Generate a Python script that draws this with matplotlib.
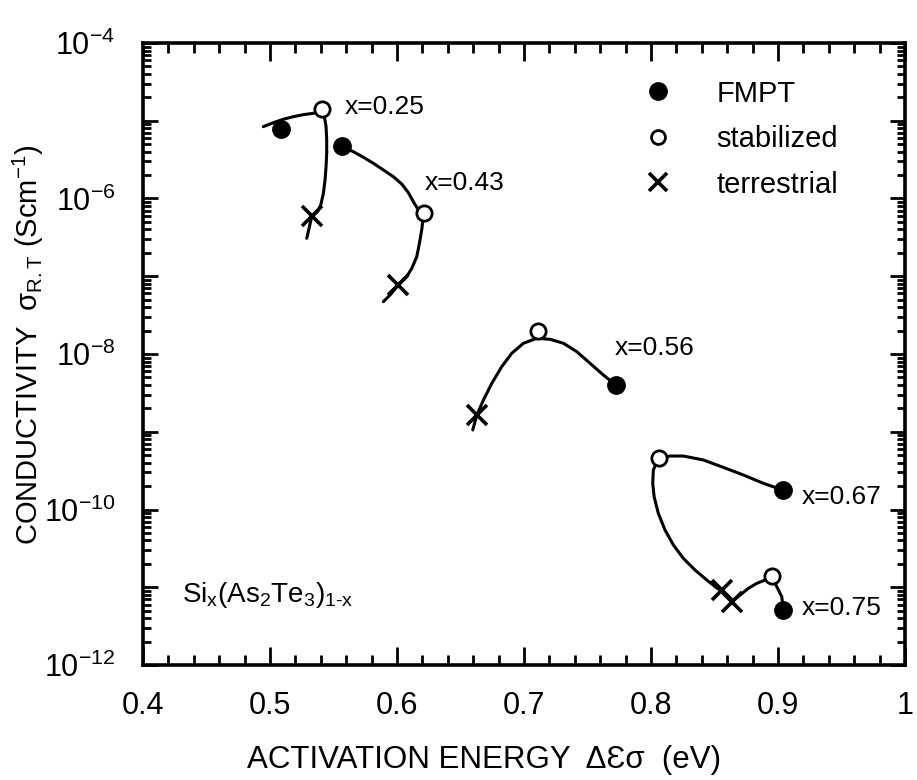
import numpy as np
import matplotlib
matplotlib.use('Agg')
import matplotlib.pyplot as plt
from matplotlib.ticker import MultipleLocator, LogLocator, FuncFormatter, NullFormatter
from matplotlib.lines import Line2D

plt.rcParams['font.family'] = ['Liberation Sans', 'DejaVu Sans']
plt.rcParams['mathtext.fontset'] = 'custom'
plt.rcParams['mathtext.rm'] = 'Liberation Sans'
plt.rcParams['mathtext.it'] = 'Liberation Sans:italic'
plt.rcParams['mathtext.bf'] = 'Liberation Sans:bold'
plt.rcParams['mathtext.default'] = 'regular'
plt.rcParams['axes.unicode_minus'] = False

# ---------------- data ----------------
compositions = ['x=0.25', 'x=0.43', 'x=0.56', 'x=0.67', 'x=0.75']

# FMPT (filled circles)
fmpt_E = [0.509, 0.557, 0.772, 0.904, 0.904]
fmpt_logS = [-5.11, -5.33, -8.40, -9.75, -11.29]
# stabilized (open circles)
stab_E = [0.541, 0.621, 0.711, 0.806, 0.895]
stab_logS = [-4.85, -6.19, -7.70, -9.34, -10.86]
# terrestrial (crosses)
terr_E = [0.533, 0.601, 0.663, 0.856, 0.864]
terr_logS = [-6.23, -7.11, -8.79, -11.04, -11.19]

# hand-drawn guide curves
curve_025_E = [0.4947, 0.5026, 0.5105, 0.5183, 0.5262, 0.5341, 0.5412, 0.5428, 0.5441,
               0.5446, 0.5446, 0.5441, 0.5433, 0.5420, 0.5399, 0.5373, 0.5328, 0.5310, 0.5289]
curve_025_logS = [-5.076, -5.025, -4.981, -4.948, -4.922, -4.904, -4.884, -4.948, -5.076,
                  -5.248, -5.419, -5.591, -5.762, -5.933, -6.084, -6.170, -6.234, -6.363, -6.512]
curve_043_E = [0.5565, 0.5656, 0.5735, 0.5813, 0.5892, 0.5971, 0.6037, 0.6089, 0.6128, 0.6160,
               0.6207, 0.6202, 0.6194, 0.6176, 0.6155, 0.6116, 0.6076, 0.6010, 0.5945, 0.5892]
curve_043_logS = [-5.334, -5.398, -5.470, -5.547, -5.633, -5.720, -5.814, -5.925, -6.041, -6.126,
                  -6.190, -6.298, -6.405, -6.576, -6.749, -6.898, -7.006, -7.113, -7.241, -7.327]
curve_056_E = [0.6596, 0.6628, 0.6680, 0.6746, 0.6824, 0.6903, 0.6995, 0.7100, 0.7205, 0.7310,
               0.7415, 0.7520, 0.7624, 0.7724]
curve_056_logS = [-8.977, -8.785, -8.592, -8.377, -8.163, -7.991, -7.862, -7.798, -7.811, -7.862,
                  -7.970, -8.120, -8.270, -8.399]
curve_067_E = [0.9037, 0.8884, 0.8727, 0.8569, 0.8412, 0.8254, 0.8150, 0.8057, 0.8018, 0.8013,
               0.8024, 0.8057, 0.8110, 0.8176, 0.8254, 0.8346, 0.8439, 0.8522, 0.8569, 0.8622]
curve_067_logS = [-9.749, -9.663, -9.556, -9.458, -9.363, -9.312, -9.312, -9.341, -9.492, -9.663,
                  -9.835, -10.049, -10.264, -10.457, -10.628, -10.778, -10.907, -11.014, -11.057, -11.143]
curve_075_E = [0.8635, 0.8701, 0.8766, 0.8832, 0.8884, 0.8950, 0.8990, 0.9029, 0.9042]
curve_075_logS = [-11.186, -11.100, -11.014, -10.950, -10.916, -10.864, -10.993, -11.121, -11.293]

label_E = [0.559, 0.622, 0.7717, 0.9189, 0.9189]
label_logS = [-4.82, -5.80, -7.92, -9.84, -11.27]

legend_labels = ['FMPT', 'stabilized', 'terrestrial']
y_tick_exps = [-12, -10, -8, -6, -4]
x_ticks = [0.4, 0.5, 0.6, 0.7, 0.8, 0.9, 1.0]
x_tick_labels = ['0.4', '0.5', '0.6', '0.7', '0.8', '0.9', '1']

# ---------------- figure ----------------
fig = plt.figure(figsize=(9.17, 7.8), dpi=100)
ax = fig.add_axes([0.156, 0.1474, 0.831, 0.7975])

lw = 2.2
curves = [(curve_025_E, curve_025_logS), (curve_043_E, curve_043_logS),
          (curve_056_E, curve_056_logS), (curve_067_E, curve_067_logS),
          (curve_075_E, curve_075_logS)]
for ce, cl in curves:
    ax.plot(ce, 10.0 ** np.array(cl), color='black', lw=lw, solid_capstyle='round',
            solid_joinstyle='round', zorder=2)

ax.plot(terr_E, 10.0 ** np.array(terr_logS), ls='none', marker='x', ms=15, mew=2.6,
        color='black', zorder=3)
ax.plot(stab_E, 10.0 ** np.array(stab_logS), ls='none', marker='o', ms=11, mew=2.0,
        mfc='white', mec='black', zorder=4)
ax.plot(fmpt_E, 10.0 ** np.array(fmpt_logS), ls='none', marker='o', ms=12.5,
        mfc='black', mec='black', zorder=4)

for lab, le, ll in zip(compositions, label_E, label_logS):
    ax.text(le, 10.0 ** ll, lab, fontsize=19, ha='left', va='center')

ax.text(0.051, 0.1125, r'Si$_x$(As$_2$Te$_3$)$_{1\text{-}x}$', transform=ax.transAxes,
        fontsize=20, ha='left', va='center')

ax.set_xlim(0.4, 1.0)
ax.set_yscale('log')
ax.set_ylim(1e-12, 1e-4)

ax.set_xticks(x_ticks)
ax.set_xticklabels(x_tick_labels)
ax.xaxis.set_minor_locator(MultipleLocator(0.02))

ax.yaxis.set_major_locator(LogLocator(base=10, numticks=20))
ax.yaxis.set_minor_locator(LogLocator(base=10, subs=np.arange(2, 10), numticks=20))
ax.yaxis.set_minor_formatter(NullFormatter())

def yfmt(v, pos):
    e = int(round(np.log10(v)))
    if e in y_tick_exps:
        return r'$10^{%d}$' % e
    return ''
ax.yaxis.set_major_formatter(FuncFormatter(yfmt))

for s in ax.spines.values():
    s.set_linewidth(2.6)

ax.tick_params(axis='both', which='both', direction='in', top=True, right=True, width=2.0)
ax.tick_params(axis='x', which='major', length=13, pad=19, labelsize=22)
ax.tick_params(axis='x', which='minor', length=7)
ax.tick_params(axis='y', which='major', length=11, pad=20, labelsize=22)
ax.tick_params(axis='y', which='minor', length=6)

ax.set_xlabel('ACTIVATION ENERGY  \u0394\u0190\u03c3  (eV)', fontsize=22.5)
ax.xaxis.set_label_coords(0.448, -0.128)
ax.set_ylabel(r'CONDUCTIVITY  $\sigma_{R.T}$ (Scm$^{-1}$)', fontsize=21)
ax.yaxis.set_label_coords(-0.128, 0.514)

handles = [
    Line2D([], [], ls='none', marker='o', ms=12.5, mfc='black', mec='black'),
    Line2D([], [], ls='none', marker='o', ms=10, mew=2.0, mfc='white', mec='black'),
    Line2D([], [], ls='none', marker='x', ms=13, mew=2.6, color='black'),
]
ax.legend(handles, legend_labels, loc='upper left', bbox_to_anchor=(0.657, 0.941),
          frameon=False, fontsize=21, handlelength=1.0, handletextpad=1.5,
          labelspacing=0.6, borderpad=0, borderaxespad=0)

fig.savefig('out.png', dpi=100)
